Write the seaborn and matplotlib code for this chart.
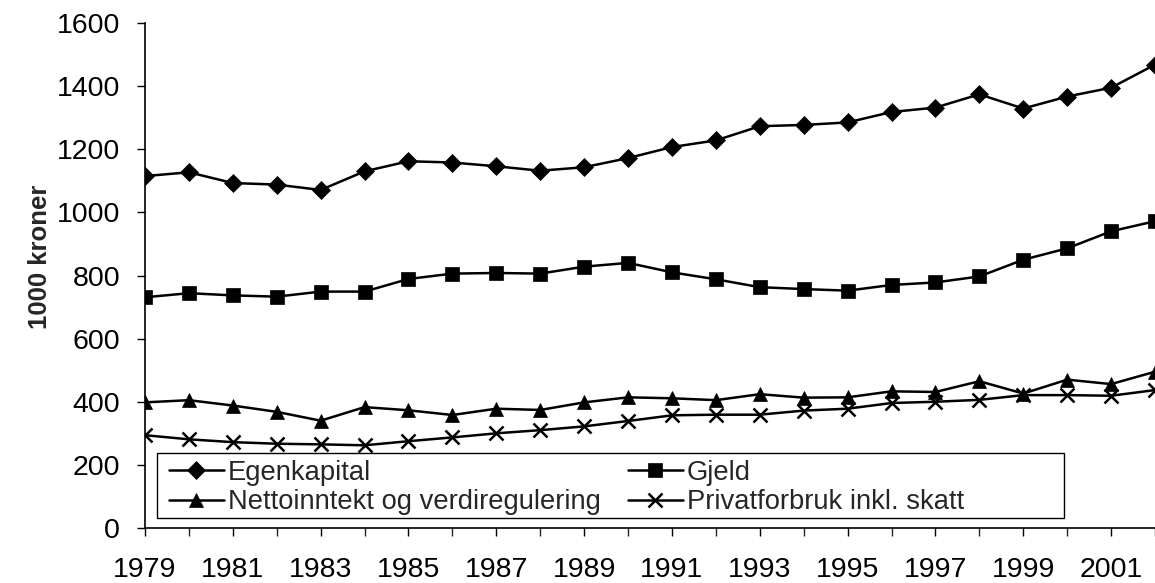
import numpy as np
import pandas as pd
import seaborn as sns
import matplotlib.pyplot as plt
from matplotlib.ticker import MultipleLocator
from matplotlib.patches import Rectangle

# Data
years = list(range(1979, 2003))
egenkapital = [1115, 1127, 1093, 1088, 1071, 1130, 1162, 1158, 1146, 1132, 1143, 1172,
               1207, 1228, 1273, 1277, 1285, 1318, 1332, 1374, 1329, 1367, 1395, 1468]
gjeld = [731, 744, 737, 733, 749, 749, 789, 806, 808, 806, 828, 840,
         810, 788, 763, 757, 752, 770, 778, 797, 850, 886, 940, 972]
nettoinntekt = [398, 405, 388, 368, 340, 383, 373, 358, 378, 374, 398, 414,
                411, 405, 424, 413, 414, 433, 431, 465, 426, 470, 456, 495]
privatforbruk = [294, 281, 272, 267, 265, 262, 275, 287, 300, 310, 322, 339,
                 357, 359, 359, 372, 378, 396, 400, 406, 421, 421, 419, 437]

series_names = ["Egenkapital", "Nettoinntekt og verdiregulering", "Gjeld", "Privatforbruk inkl. skatt"]
series_values = [egenkapital, nettoinntekt, gjeld, privatforbruk]
series_markers = ["D", "^", "s", "x"]
marker_sizes = [9, 10, 10, 10]

sns.set_style("ticks")
plt.rcParams['font.family'] = ['Liberation Sans', 'DejaVu Sans']

fig = plt.figure(figsize=(11.55, 5.83), dpi=100)
ax = fig.add_axes([145 / 1155, 1 - 528 / 583, 1010 / 1155, 505 / 583])

for name, vals, mk, ms in zip(series_names, series_values, series_markers, marker_sizes):
    sns.lineplot(x=years, y=vals, ax=ax, color="black", marker=mk, markersize=ms,
                 markeredgecolor="black", markeredgewidth=1.8 if mk == "x" else 0.5,
                 linewidth=1.8, label=name)

ax.set_xlim(1979, 2002)
ax.set_ylim(0, 1600)
ax.yaxis.set_major_locator(MultipleLocator(200))
ax.set_xticks(list(range(1979, 2003, 2)))
ax.xaxis.set_minor_locator(MultipleLocator(1))
ax.tick_params(axis="both", labelsize=20.5, length=6, width=1, colors="black")
ax.tick_params(axis="x", which="minor", length=6, width=1)
ax.tick_params(axis="x", pad=15)
ax.tick_params(axis="y", pad=12)
sns.despine(ax=ax)
for s in ["left", "bottom"]:
    ax.spines[s].set_linewidth(1.2)
    ax.spines[s].set_color("black")

ax.set_ylabel("1000 kroner", fontsize=18.5, fontweight="bold")
ax.yaxis.set_label_coords(-93 / 1010, (528 - 257) / 505)
ax.set_xlabel("")

# legend box drawn separately so it is wider than its content, like the original
box = Rectangle((12 / 1010, 10 / 505), 907 / 1010, 65 / 505, transform=ax.transAxes,
                facecolor="white", edgecolor="black", linewidth=1.0, zorder=5)
ax.add_patch(box)
leg = ax.legend(loc="center left", ncol=2, bbox_to_anchor=(24 / 1010, 40.5 / 505),
                fontsize=19.7, frameon=False, borderpad=0, columnspacing=1.0,
                labelspacing=0.12, handlelength=2.0, handletextpad=0.15, borderaxespad=0)
leg.set_zorder(6)

fig.savefig("out.png", dpi=100)
